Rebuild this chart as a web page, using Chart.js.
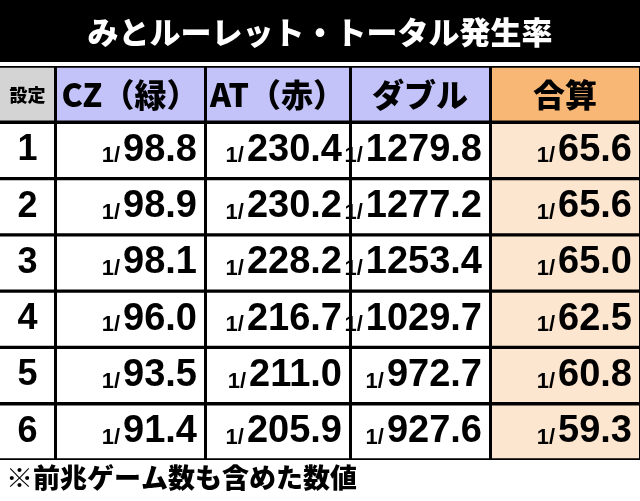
<!DOCTYPE html><html><head><meta charset="utf-8">
<script src="https://cdn.jsdelivr.net/npm/chart.js@4"></script>
<style>html,body{margin:0;padding:0;background:#fff}#w{width:640px;height:501px}</style></head><body><div id="w"><canvas id="c"></canvas></div>
<script>
const title = 'みとルーレット・トータル発生率';
const footnote = '※前兆ゲーム数も含めた数値';
const headers = ['設定','CZ（緑）','AT（赤）','ダブル','合算'];
const settings = ['1','2','3','4','5','6'];
const czValues = ['98.8','98.9','98.1','96.0','93.5','91.4'];
const atValues = ['230.4','230.2','228.2','216.7','211.0','205.9'];
const doubleValues = ['1279.8','1277.2','1253.4','1029.7','972.7','927.6'];
const totalValues = ['65.6','65.6','65.0','62.5','60.8','59.3'];
const colEdges = [0,55,205,350,490,640];
const rows = ['h'].concat(settings);
const headerColors = ['#d4d4d4','#c3c3fa','#c3c3fa','#c3c3fa','#f8b774'];
const bodyColors = ['#ffffff','#ffffff','#ffffff','#ffffff','#fde6d0'];
const cols = [null, czValues, atValues, doubleValues, totalValues];
const datasets = headers.map((h,ci)=>({
  data: rows.map(()=>[colEdges[ci]+(ci?2:0), colEdges[ci+1]-1]),
  backgroundColor: rows.map((r,ri)=>ri===0?headerColors[ci]:bodyColors[ci]),
  grouped:false, categoryPercentage:1, barPercentage:0.94, borderSkipped:false
}));
const plug = {
  id:'tbl',
  beforeDraw(ch){
    const c=ch.ctx; c.save();
    c.fillStyle='#fff'; c.fillRect(0,0,640,501);
    c.fillStyle='#000'; c.fillRect(0,0,640,62);
    c.fillRect(0,ch.chartArea.top,640,ch.chartArea.bottom-ch.chartArea.top);
    c.restore();
  },
  afterDraw(ch){
    const c=ch.ctx, x=ch.scales.x, y=ch.scales.y;
    c.save();
    c.fillStyle='#fff'; c.textAlign='center'; c.textBaseline='middle';
    c.font='900 31px "Noto Sans CJK JP"';
    c.fillText(title,320,32);
    c.fillStyle='#000';
    c.textAlign='left';
    c.font='900 27px "Noto Sans CJK JP"';
    c.fillText(footnote,6,478);
    c.textAlign='center';
    headers.forEach((h,ci)=>{
      const cx=(x.getPixelForValue(colEdges[ci])+x.getPixelForValue(colEdges[ci+1]))/2;
      const cy=y.getPixelForValue(0);
      c.font = ci===0?'900 18px "Noto Sans CJK JP"':'900 32px "Noto Sans CJK JP"';
      c.fillText(h,cx,cy+1);
    });
    settings.forEach((s,ri)=>{
      const cy=y.getPixelForValue(ri+1);
      c.textAlign='center';
      c.font='bold 36px "Liberation Sans Narrow","Liberation Sans"';
      c.fillText(s,(x.getPixelForValue(0)+x.getPixelForValue(55))/2,cy);
      for(let ci=1;ci<5;ci++){
        const right=x.getPixelForValue(colEdges[ci+1])-8;
        c.textAlign='right';
        c.font='bold 38px "Liberation Sans Narrow","Liberation Sans"';
        const v=cols[ci][ri];
        c.fillText(v,right,cy);
        const w=c.measureText(v).width;
        c.font='bold 22px "Liberation Sans Narrow","Liberation Sans"';
        c.fillText('1/',right-w-3,cy+6);
      }
    });
    c.restore();
  }
};
new Chart(document.getElementById('c'),{
  type:'bar',
  data:{labels:rows,datasets},
  options:{
    indexAxis:'y', responsive:true, maintainAspectRatio:false, animation:false,
    layout:{padding:{top:66,bottom:41,left:0,right:0}},
    scales:{x:{type:'linear',min:0,max:640,display:false},y:{display:false}},
    plugins:{legend:{display:false},tooltip:{enabled:false},title:{display:false}}
  },
  plugins:[plug]
});
</script></body></html>
